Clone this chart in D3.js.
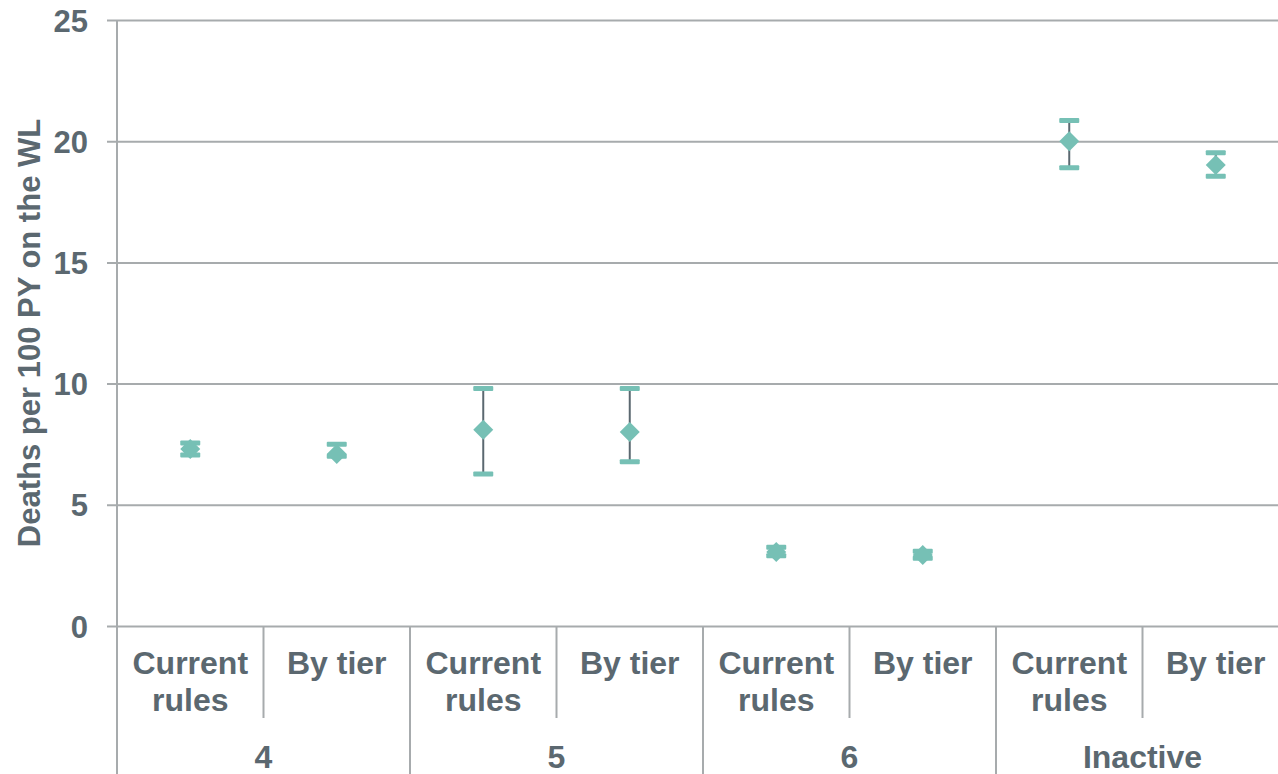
<!DOCTYPE html>
<html>
<head>
<meta charset="utf-8">
<script src="https://cdn.jsdelivr.net/npm/d3@7"></script>
<style>
  html, body { margin: 0; padding: 0; background: #fff; }
  svg { display: block; font-family: "Liberation Sans", Arial, sans-serif; font-weight: bold; }
</style>
</head>
<body>
<svg id="chart" width="1278" height="774"></svg>
<script>
// Death rate on the waiting list (per 100 person-years), by group and allocation rule
const groups = ["4", "5", "6", "Inactive"];
const rules = ["Current rules", "By tier"];
const rate  = [7.3, 7.1, 8.1, 8.0, 3.05, 2.93, 20.0, 19.02];
const lower = [7.05, 7.0, 6.27, 6.78, 2.9, 2.8, 18.9, 18.55];
const upper = [7.55, 7.5, 9.8, 9.8, 3.25, 3.08, 20.85, 19.52];
const yTicks = [0, 5, 10, 15, 20, 25];

const teal = "#76c0b5";
const ink = "#5b6870";
const rule = "#a7abad";

const svg = d3.select("#chart");
const x0 = 117, x1 = 1289, yTop = 20, yBase = 626;

const points = groups.flatMap((g, gi) => rules.map((r, ri) => {
  const i = gi * rules.length + ri;
  return { key: g + "|" + r, group: g, rule: r, v: rate[i], lo: lower[i], hi: upper[i] };
}));

const x = d3.scaleBand().domain(points.map(d => d.key)).range([x0, x1]).padding(0);
const xg = d3.scaleBand().domain(groups).range([x0, x1]).padding(0);
const y = d3.scaleLinear().domain([0, 25]).range([yBase, yTop]);

// horizontal gridlines with outer ticks
const yAxis = d3.axisLeft(y).tickValues(yTicks).tickSize(-(x1 - x0)).tickPadding(0).tickFormat(d3.format("d"));
const gy = svg.append("g").attr("transform", `translate(${x0},0)`).call(yAxis);
gy.select(".domain").remove();
gy.selectAll(".tick line").attr("x1", -10).attr("stroke", rule).attr("stroke-width", 2);
gy.selectAll(".tick text")
  .attr("x", -29).attr("dy", "0.36em")
  .attr("fill", ink).attr("font-size", 31).attr("font-weight", "bold");

// vertical axis line runs down through the category rows
svg.append("line").attr("x1", x0).attr("x2", x0).attr("y1", yTop).attr("y2", 774)
  .attr("stroke", rule).attr("stroke-width", 2);

// category dividers: short between rules, full height between groups
const subDiv = points.slice(1).map(d => d.key).filter((k, i) => (i + 1) % rules.length !== 0);
svg.selectAll("line.sub").data(subDiv).join("line").attr("class", "sub")
  .attr("x1", d => x(d)).attr("x2", d => x(d)).attr("y1", yBase).attr("y2", 718)
  .attr("stroke", rule).attr("stroke-width", 2);
svg.selectAll("line.grp").data(groups.slice(1)).join("line").attr("class", "grp")
  .attr("x1", d => xg(d)).attr("x2", d => xg(d)).attr("y1", yBase).attr("y2", 774)
  .attr("stroke", rule).attr("stroke-width", 2);

// rule labels (two lines when needed)
const lab = svg.selectAll("text.rule").data(points).join("text").attr("class", "rule")
  .attr("text-anchor", "middle").attr("fill", ink).attr("font-size", 32);
lab.each(function (d) {
  const words = d.rule === "Current rules" ? ["Current", "rules"] : [d.rule];
  d3.select(this).selectAll("tspan").data(words).join("tspan")
    .attr("x", x(d.key) + x.bandwidth() / 2)
    .attr("y", (w, i) => 674 + i * 37)
    .text(w => w);
});

// group labels
svg.selectAll("text.grp").data(groups).join("text").attr("class", "grp")
  .attr("x", d => xg(d) + xg.bandwidth() / 2).attr("y", 768)
  .attr("text-anchor", "middle").attr("fill", ink).attr("font-size", 32).text(d => d);

// y-axis title
svg.append("text")
  .attr("transform", `translate(40,${(yTop + yBase) / 2 + 10}) rotate(-90)`)
  .attr("text-anchor", "middle").attr("fill", ink).attr("font-size", 31)
  .text("Deaths per 100 PY on the WL");

// error bars and markers
const cx = d => x(d.key) + x.bandwidth() / 2;
const marks = svg.append("g").selectAll("g").data(points).join("g");
marks.append("line")
  .attr("x1", cx).attr("x2", cx).attr("y1", d => y(d.hi)).attr("y2", d => y(d.lo))
  .attr("stroke", ink).attr("stroke-width", 2);
marks.selectAll("rect.cap").data(d => [d.hi, d.lo].map(v => ({ cx: cx(d), v }))).join("rect")
  .attr("class", "cap")
  .attr("x", c => c.cx - 10).attr("y", c => y(c.v) - 2.5).attr("width", 20).attr("height", 5)
  .attr("rx", 1).attr("fill", teal);
marks.append("path")
  .attr("d", d3.symbol(d3.symbolSquare, 200))
  .attr("transform", d => `translate(${cx(d)},${y(d.v)}) rotate(45)`)
  .attr("fill", teal);
</script>
</body>
</html>
